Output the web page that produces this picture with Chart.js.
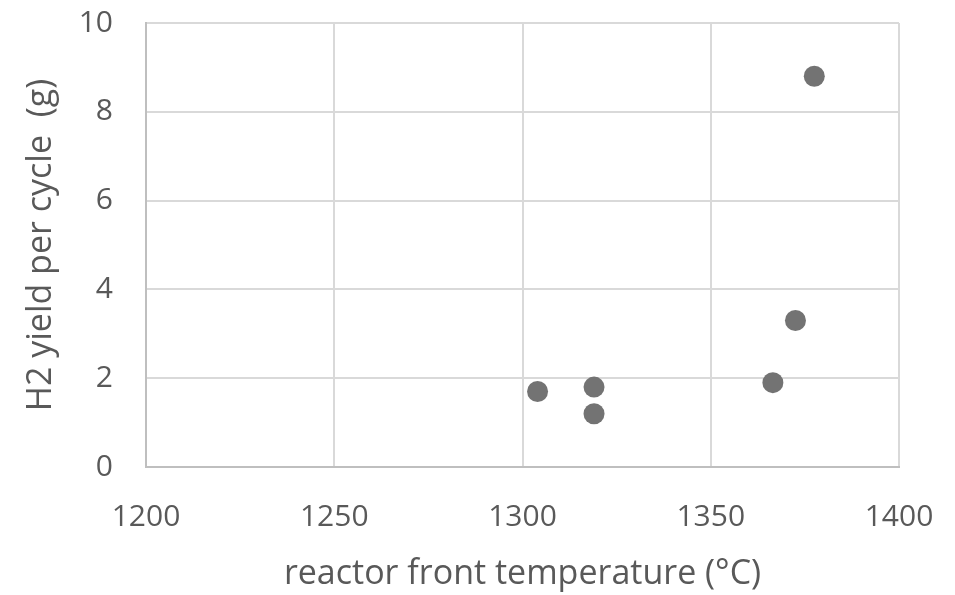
<!DOCTYPE html>
<html>
<head>
<meta charset="utf-8">
<script src="https://cdn.jsdelivr.net/npm/chart.js@4"></script>
<style>
  html, body { margin: 0; padding: 0; background: #fff; }
  #wrap { width: 955px; height: 595px; }
</style>
</head>
<body>
<div id="wrap"><canvas id="yieldChart" width="955" height="595"></canvas></div>
<script>
const temps = [1304, 1319, 1319, 1366.5, 1372.5, 1377.5];
const yields = [1.7, 1.8, 1.2, 1.9, 3.3, 8.8];
const xTicks = [1200, 1250, 1300, 1350, 1400];
const yTicks = [0, 2, 4, 6, 8, 10];

const ctx = document.getElementById('yieldChart');
const points = temps.map((t, i) => ({ x: t, y: yields[i] }));
const textColor = '#595959';
const gridColor = '#d9d9d9';
const fontFamily = '"Open Sans", "Liberation Sans", sans-serif';

const config = {
  type: 'scatter',
  data: {
    datasets: [{
      label: 'H2 yield',
      data: points,
      pointRadius: 10.5,
      pointHoverRadius: 10.5,
      pointBackgroundColor: '#737373',
      pointBorderColor: '#737373',
      pointBorderWidth: 0
    }]
  },
  options: {
    responsive: false,
    animation: false,
    devicePixelRatio: 1,
    layout: { padding: { left: 0, right: 56, top: 23, bottom: 0 } },
    plugins: {
      legend: { display: false },
      tooltip: { enabled: false }
    },
    scales: {
      x: {
        type: 'linear',
        min: 1200,
        max: 1400,
        afterBuildTicks: axis => { axis.ticks = xTicks.map(v => ({ value: v })); },
        // fix the axis box so the plot area lands where the reference has it
        afterFit: axis => { axis.height = 128; axis.paddingLeft = 0; axis.paddingRight = 0; },
        grid: { color: gridColor, lineWidth: 2, drawTicks: false },
        border: { color: '#bfbfbf', width: 2 },
        ticks: {
          color: textColor,
          font: { family: fontFamily, size: 30 },
          padding: 32,
          callback: v => String(v)
        },
        title: {
          display: true,
          text: 'reactor front temperature (°C)',
          color: textColor,
          font: { family: fontFamily, size: 34 },
          padding: { top: 0, bottom: 0 }
        }
      },
      y: {
        type: 'linear',
        min: 0,
        max: 10,
        afterBuildTicks: axis => { axis.ticks = yTicks.map(v => ({ value: v })); },
        afterFit: axis => { axis.width = 146; axis.paddingTop = 0; axis.paddingBottom = 0; },
        grid: { color: gridColor, lineWidth: 2, drawTicks: false },
        border: { color: '#bfbfbf', width: 2 },
        ticks: {
          color: textColor,
          font: { family: fontFamily, size: 30 },
          padding: 33,
          callback: v => String(v)
        },
        title: {
          display: true,
          text: 'H2 yield per cycle  (g)',
          color: textColor,
          font: { family: fontFamily, size: 34 },
          padding: { top: 21, bottom: 0 }
        }
      }
    }
  }
};

const yieldChart = new Chart(ctx, config);
</script>
</body>
</html>
